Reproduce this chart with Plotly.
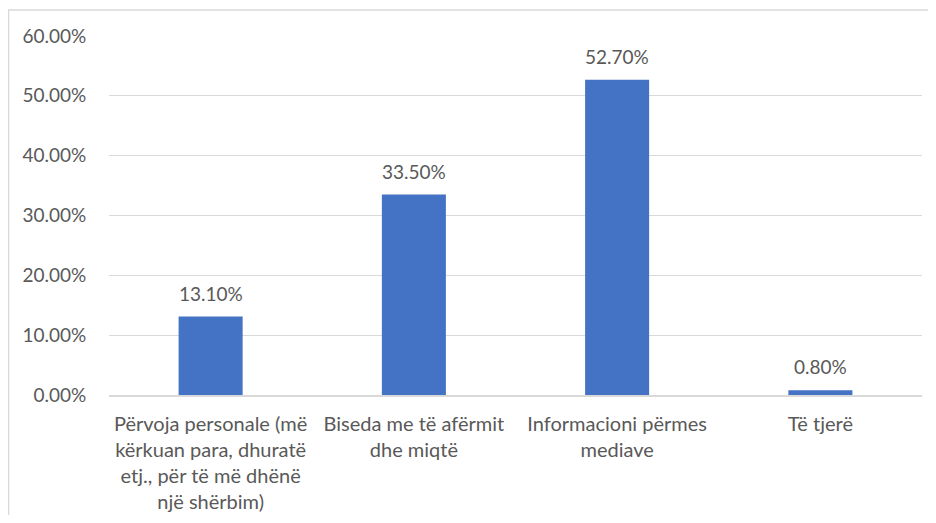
import plotly.graph_objects as go

categories = [
    "Përvoja personale (më<br>kërkuan para, dhuratë<br>etj., për të më dhënë<br>një shërbim)",
    "Biseda me të afërmit<br>dhe miqtë",
    "Informacioni përmes<br>mediave",
    "Të tjerë",
]
values = [13.1, 33.5, 52.7, 0.8]
y_ticks = [0, 10, 20, 30, 40, 50, 60]
y_tick_labels = [f"{v:.2f}%" for v in y_ticks]
value_labels = [f"{v:.2f}%" for v in values]

FONT = "Lato"
SIZE = 19
GRAY = "#595959"

fig = go.Figure(go.Bar(
    x=categories,
    y=values,
    marker=dict(color="#4472C4", line=dict(width=0)),
    hoverinfo="skip",
))

for c, v, t in zip(categories, values, value_labels):
    fig.add_annotation(
        x=c, y=v, text=t, showarrow=False,
        yanchor="bottom", yshift=10,
        font=dict(family=FONT, size=SIZE, color=GRAY),
    )

fig.update_layout(
    width=920, height=507,
    margin=dict(l=101, r=6, t=28, b=120),
    paper_bgcolor="white", plot_bgcolor="white",
    bargap=0.685,
    showlegend=False,
    font=dict(family=FONT, size=SIZE, color=GRAY),
    shapes=[dict(
        type="rect", xref="paper", yref="paper",
        x0=-0.1236, x1=1.03, y0=-0.4, y1=1.0724,
        line=dict(color="#d9d9d9", width=1.5), fillcolor="rgba(0,0,0,0)",
        layer="below",
    )],
)
fig.update_yaxes(
    range=[0, 60], tickvals=y_ticks, ticktext=y_tick_labels,
    showgrid=True, gridcolor="#d9d9d9", gridwidth=1.2,
    zeroline=False, showline=False, automargin=False,
    ticks="outside", ticklen=18, tickcolor="rgba(0,0,0,0)",
    tickfont=dict(family=FONT, size=SIZE, color=GRAY),
)
fig.update_xaxes(
    showline=True, linecolor="#d9d9d9", linewidth=1.5, automargin=False,
    ticks="outside", ticklen=10, tickcolor="rgba(0,0,0,0)",
    tickfont=dict(family=FONT, size=20, color=GRAY),
    tickangle=0,
)

fig.write_html("out.html")
